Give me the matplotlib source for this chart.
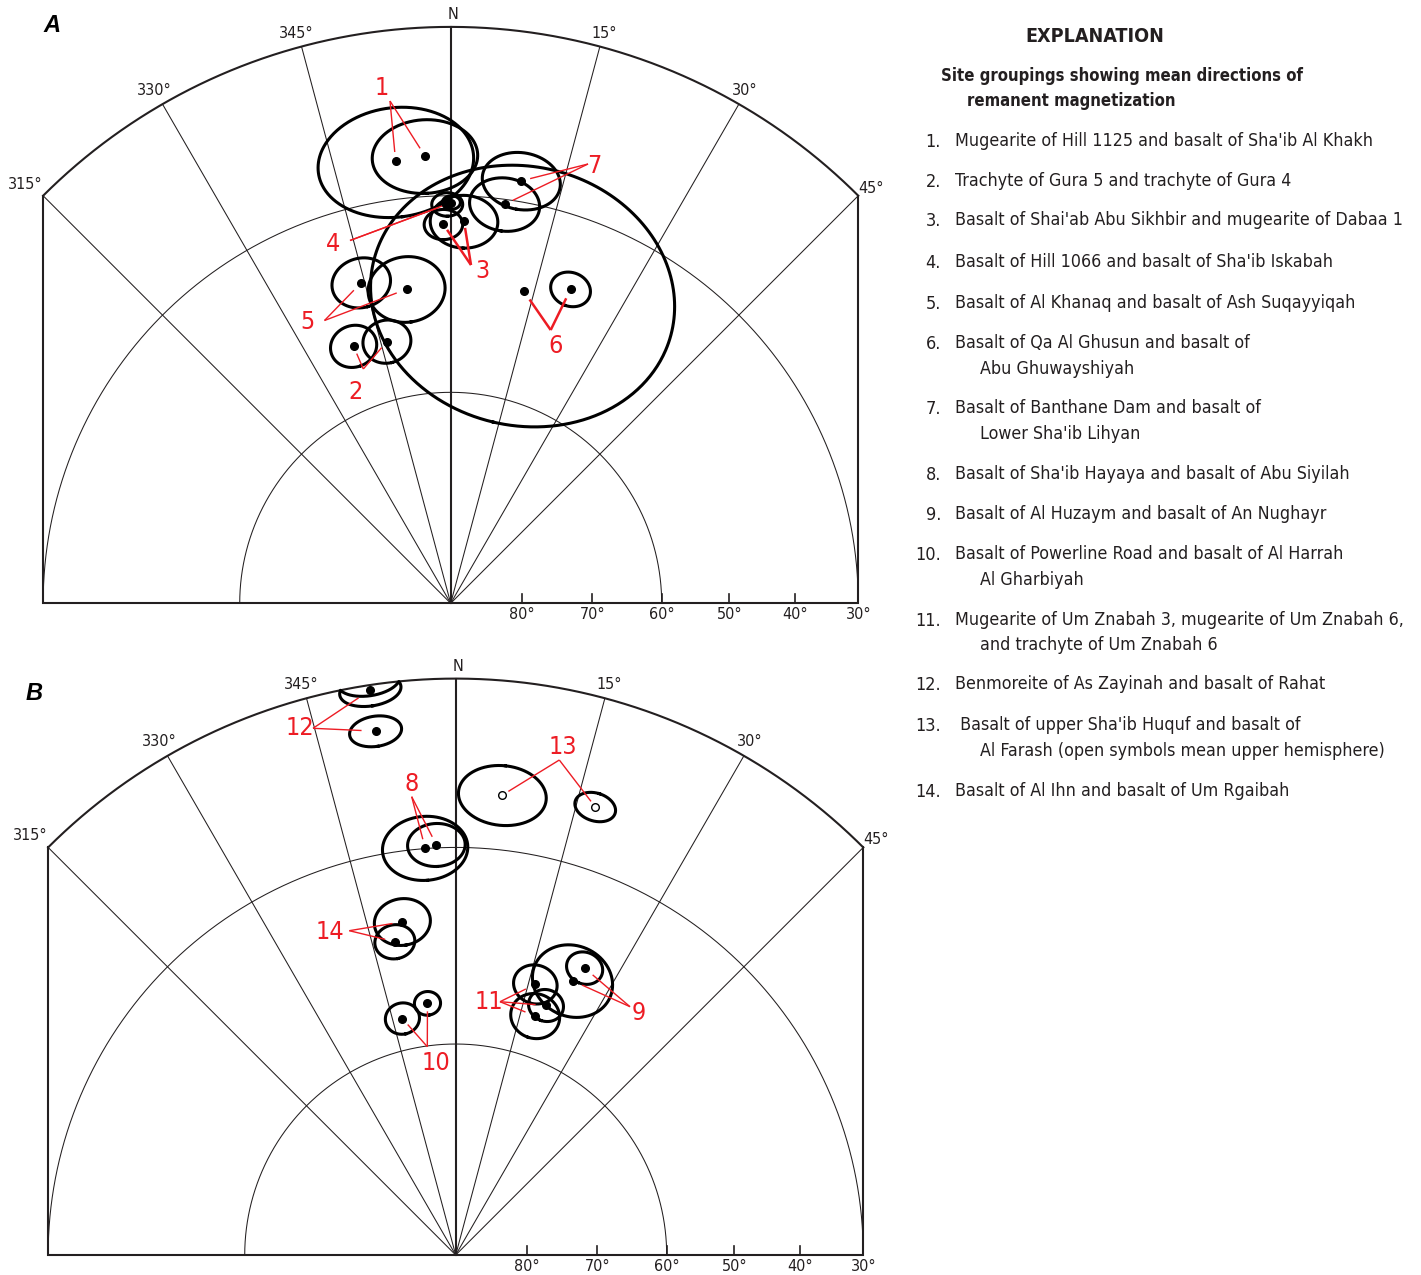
import numpy as np
import matplotlib
matplotlib.use("Agg")
import matplotlib.pyplot as plt
from matplotlib import font_manager

# ---------------------------------------------------------------------------
# Site mean directions of remanent magnetization (degrees)
# ---------------------------------------------------------------------------
# Panel A
a_group = [1, 1, 2, 2, 3, 3, 4, 4, 5, 5, 6, 6, 7, 7]
a_dec = [352.9, 356.7, 339.3, 346.3, 358.9, 2.0, 359.5, 0.1, 344.4, 352.0, 13.2, 20.9, 9.5, 7.7]
a_inc = [23.7, 23.3, 50.6, 51.4, 34.6, 34.1, 31.4, 31.1, 41.8, 44.2, 43.7, 41.3, 26.6, 30.8]
a_a95 = [9.2, 6.2, 3.1, 3.2, 2.4, 4.2, 1.9, 1.1, 3.8, 5.0, 19.9, 2.6, 4.7, 4.3]

# Panel B (negative inclination = upper hemisphere, open symbol)
b_group = [8, 8, 9, 9, 10, 10, 11, 11, 11, 12, 12, 13, 13, 14, 14]
b_dec = [355.7, 357.3, 24.2, 23.1, 347.3, 353.6, 16.4, 19.9, 18.4, 351.4, 351.3, 5.8, 17.3, 350.9, 349.0]
b_inc = [29.9, 29.5, 44.6, 47.1, 55.4, 53.8, 49.5, 52.0, 54.0, 1.0, 8.9, -20.9, -19.7, 41.1, 43.9]
b_a95 = [5.2, 3.5, 2.4, 5.35, 2.3, 1.75, 2.9, 2.35, 3.3, 3.1, 2.8, 5.1, 2.4, 3.6, 2.6]

# Net graticule
net_azimuths = [-45, -30, -15, 0, 15, 30, 45]
azimuth_labels = ["315°", "330°", "345°", "N", "15°", "30°", "45°"]
net_circles = [30, 60]
tick_incs = [80, 70, 60, 50, 40, 30]

# Explanation
heading = "EXPLANATION"
subheading = ["Site groupings showing mean directions of", "remanent magnetization"]
legend_items = [
    ("1.", ["Mugearite of Hill 1125 and basalt of Sha'ib Al Khakh"]),
    ("2.", ["Trachyte of Gura 5 and trachyte of Gura 4"]),
    ("3.", ["Basalt of Shai'ab Abu Sikhbir and mugearite of Dabaa 1"]),
    ("4.", ["Basalt of Hill 1066 and basalt of Sha'ib Iskabah"]),
    ("5.", ["Basalt of Al Khanaq and basalt of Ash Suqayyiqah"]),
    ("6.", ["Basalt of Qa Al Ghusun and basalt of", "Abu Ghuwayshiyah"]),
    ("7.", ["Basalt of Banthane Dam and basalt of", "Lower Sha'ib Lihyan"]),
    ("8.", ["Basalt of Sha'ib Hayaya and basalt of Abu Siyilah"]),
    ("9.", ["Basalt of Al Huzaym and basalt of An Nughayr"]),
    ("10.", ["Basalt of Powerline Road and basalt of Al Harrah", "Al Gharbiyah"]),
    ("11.", ["Mugearite of Um Znabah 3, mugearite of Um Znabah 6,", "and trachyte of Um Znabah 6"]),
    ("12.", ["Benmoreite of As Zayinah and basalt of Rahat"]),
    ("13.", [" Basalt of upper Sha'ib Huquf and basalt of",
             "Al Farash (open symbols mean upper hemisphere)"]),
    ("14.", ["Basalt of Al Ihn and basalt of Um Rgaibah"]),
]

# ---------------------------------------------------------------------------
# Styling / layout
# ---------------------------------------------------------------------------
W, H = 1421, 1275
S = 576.4                      # pixels per unit of projected radius
RED = "#ED1C24"
INK = "#231F20"

SANS = "Liberation Sans"
fonts = font_manager.fontManager.ttflist
names = {f.name for f in fonts}
if "Liberation Sans Narrow" in names:
    NARROW = dict(family="Liberation Sans Narrow")
elif any(f.name == "DejaVu Sans" and "condensed" in str(f.stretch) for f in fonts):
    NARROW = dict(family="DejaVu Sans", fontstretch="condensed")
else:
    NARROW = dict(family=SANS)

# panel center (pixels) and axes box (x0, y0, x1, y1) in pixels from top-left
panel_a = dict(center=(450.7, 603.3), box=(0, 0, 905, 640))
panel_b = dict(center=(455.7, 1255.0), box=(0, 648, 905, 1275))

# azimuth label offsets from the rim (pixels: right, up)
az_label_offsets = {-45: (-18, 11.5), -30: (-8.5, 14), -15: (-5.5, 13.5), 0: (2, 12),
                    15: (4, 13.5), 30: (6, 14), 45: (13, 7.5)}

# group label placement: label center, leader hub (pixels), gap at dot, line width
a_labels = {
    1: dict(text=(381.5, 88), hub=(390, 101), gap=9, lw=1.0),
    2: dict(text=(356, 392), hub=(363.3, 369), gap=8, lw=1.0),
    3: dict(text=(482, 271), hub=(471, 265), gap=6.5, lw=1.8),
    4: dict(text=(333.5, 244), hub=(350, 240.5), gap=10, lw=1.0),
    5: dict(text=(307, 322), hub=(324.5, 320.5), gap=10.5, lw=1.0),
    6: dict(text=(556, 346), hub=(550.7, 330), gap=10, lw=1.8),
    7: dict(text=(594, 166), hub=(588, 164), gap=9, lw=1.0),
}
b_labels = {
    8: dict(text=(412, 784), hub=(411.7, 796.7), gap=9, lw=1.0),
    9: dict(text=(638.5, 1013), hub=(630, 1006.7), gap=10.5, lw=1.0),
    10: dict(text=(436, 1063), hub=(427.3, 1046.7), gap=8, lw=1.0),
    11: dict(text=(488.5, 1002), hub=(500, 1001.7), gap=10.5, lw=1.0),
    12: dict(text=(299.5, 728), hub=(313, 728.3), gap=14, lw=1.0),
    13: dict(text=(563, 747.5), hub=(559.3, 760), gap=7, lw=1.0),
    14: dict(text=(329.5, 932), hub=(349.3, 930.7), gap=10, lw=1.0),
}


# ---------------------------------------------------------------------------
# Equal-area (Schmidt) projection helpers
# ---------------------------------------------------------------------------
def eq_radius(inc):
    return np.sqrt(2.0) * np.sin(np.radians(90.0 - np.abs(np.asarray(inc, float))) / 2.0)


def project(dec, inc):
    r = eq_radius(inc)
    d = np.radians(np.asarray(dec, float))
    return r * np.sin(d), r * np.cos(d)


def cone(dec, inc, a95, n=400):
    """Small circle of radius a95 about (dec, inc); upper-hemisphere parts fold onto |inc|."""
    d, i, a = np.radians([dec, inc, a95])
    m = np.array([np.cos(i) * np.cos(d), np.cos(i) * np.sin(d), np.sin(i)])
    u = np.array([-np.sin(i) * np.cos(d), -np.sin(i) * np.sin(d), np.cos(i)])
    v = np.cross(m, u)
    psi = np.linspace(0, 2 * np.pi, n)
    p = np.cos(a) * m[:, None] + np.sin(a) * (np.cos(psi) * u[:, None] + np.sin(psi) * v[:, None])
    pdec = np.degrees(np.arctan2(p[1], p[0]))
    pinc = np.degrees(np.arcsin(np.clip(p[2], -1, 1)))
    return project(pdec, pinc)


fig = plt.figure(figsize=(W / 100, H / 100), dpi=100)


def make_axes(panel):
    x0, y0, x1, y1 = panel["box"]
    cx, cy = panel["center"]
    ax = fig.add_axes([x0 / W, 1 - y1 / H, (x1 - x0) / W, (y1 - y0) / H])
    ax.set_xlim((x0 - cx) / S, (x1 - cx) / S)
    ax.set_ylim((cy - y1) / S, (cy - y0) / S)
    ax.axis("off")
    return ax


def px(panel, x, y):
    cx, cy = panel["center"]
    return (x - cx) / S, (cy - y) / S


def draw_net(ax):
    rim = np.radians(np.linspace(-45, 45, 400))
    ax.plot(np.sin(rim), np.cos(rim), color=INK, lw=1.5, zorder=2)
    e = eq_radius(30)
    ax.plot([-e, -e, e, e], [e, 0, 0, e], color=INK, lw=1.5, zorder=2,
            solid_joinstyle="miter")
    half = np.radians(np.linspace(-90, 90, 400))
    for inc in net_circles:
        r = eq_radius(inc)
        ax.plot(r * np.sin(half), r * np.cos(half), color=INK, lw=0.75, zorder=1)
    for az, lab in zip(net_azimuths, azimuth_labels):
        x, y = np.sin(np.radians(az)), np.cos(np.radians(az))
        ax.plot([0, x], [0, y], color=INK, lw=1.5 if az == 0 else 0.75, zorder=1)
        ox, oy = az_label_offsets[az]
        ax.annotate(lab, xy=(x, y), xytext=(ox * 0.72, oy * 0.72), textcoords="offset points",
                    ha="center", va="center", fontsize=11.5, color=INK, **NARROW)
    for inc in tick_incs:
        r = eq_radius(inc)
        if inc > 30:
            ax.plot([r, r], [0, 9 / S], color=INK, lw=1.2, zorder=2)
        ax.text(r, -11.5 / S, f"{inc}°", ha="center", va="center", fontsize=11.5,
                color=INK, **NARROW)


def draw_sites(ax, panel, groups, decs, incs, a95s, labels):
    pos = {}
    for g, d, i, a in zip(groups, decs, incs, a95s):
        ex, ey = cone(d, i, a)
        ax.plot(ex, ey, color="black", lw=2.2, zorder=3)
        x, y = project(d, i)
        if i < 0:
            ax.plot(x, y, "o", ms=5.5, mfc="white", mec="black", mew=1.0, zorder=4)
        else:
            ax.plot(x, y, "o", ms=5.5, color="black", zorder=4)
        pos.setdefault(g, []).append((float(x), float(y)))
    for g, spec in labels.items():
        hx, hy = px(panel, *spec["hub"])
        for x, y in pos[g]:
            dx, dy = hx - x, hy - y
            L = np.hypot(dx, dy)
            gx, gy = x + dx / L * spec["gap"] / S, y + dy / L * spec["gap"] / S
            ax.plot([hx, gx], [hy, gy], color=RED, lw=spec["lw"], zorder=5,
                    solid_capstyle="butt")
        tx, ty = px(panel, *spec["text"])
        ax.text(tx, ty, str(g), color=RED, fontsize=18, ha="center", va="center",
                zorder=6, **NARROW)


ax_a = make_axes(panel_a)
draw_net(ax_a)
draw_sites(ax_a, panel_a, a_group, a_dec, a_inc, a_a95, a_labels)
ax_a.text(*px(panel_a, 52, 26), "A", fontsize=17, fontweight="bold", fontstyle="italic",
          family=SANS, ha="center", va="center", color="black")

ax_b = make_axes(panel_b)
draw_net(ax_b)
draw_sites(ax_b, panel_b, b_group, b_dec, b_inc, b_a95, b_labels)
ax_b.text(*px(panel_b, 34, 693), "B", fontsize=17, fontweight="bold", fontstyle="italic",
          family=SANS, ha="center", va="center", color="black")


# ---------------------------------------------------------------------------
# Explanation block
# ---------------------------------------------------------------------------
def ftext(x, y, s, **kw):
    fig.text(x / W, 1 - y / H, s, color=INK, **kw)


ftext(1095, 37, heading, fontsize=14.1, fontweight="bold", ha="center", va="center", **NARROW)
ftext(941, 76, subheading[0], fontsize=12.0, fontweight="bold", ha="left", va="center", **NARROW)
ftext(967, 101, subheading[1], fontsize=12.0, fontweight="bold", ha="left", va="center", **NARROW)

item_rows = [141, 181, 220, 262, 303, 343, 408, 474, 514, 554, 620, 684, 725, 791]
for (num, lines), y in zip(legend_items, item_rows):
    ftext(941, y + 1, num, fontsize=13.0, ha="right", va="center", **NARROW)
    for k, line in enumerate(lines):
        ftext(955 if k == 0 else 980, y + 25.5 * k, line, fontsize=12.8,
              ha="left", va="center", **NARROW)

fig.savefig("out.png", dpi=100)
